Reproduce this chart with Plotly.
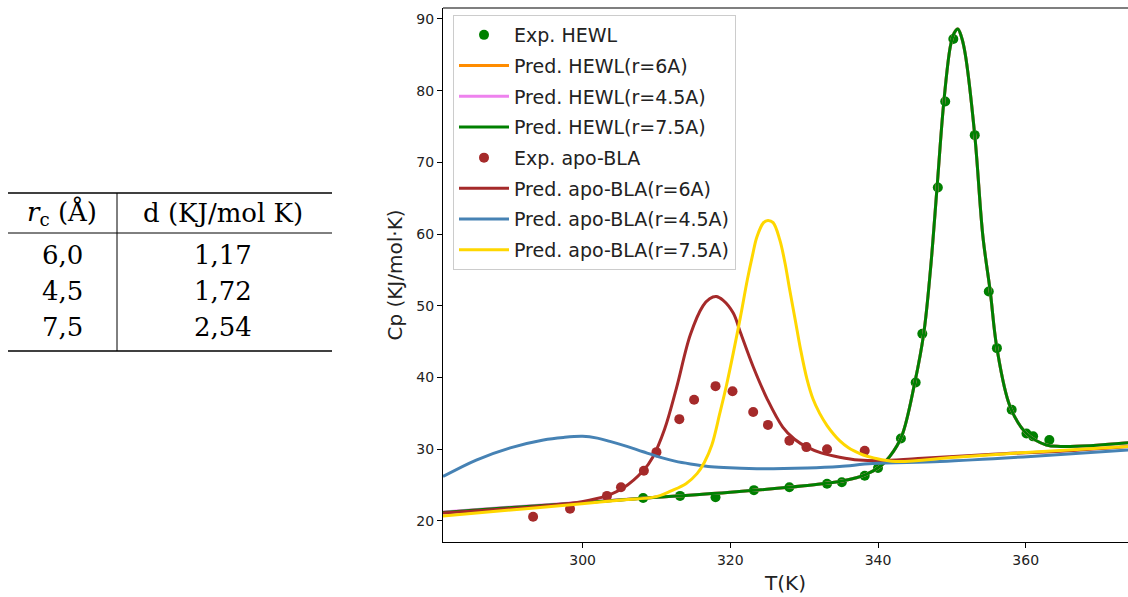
import plotly.graph_objects as go

# ---------------- data ----------------
# Experimental HEWL
exp_hewl_T = [308.2, 313.2, 318.0, 323.2, 328.0, 333.1, 335.1, 338.2, 340.0, 343.1, 345.1, 346.0, 348.1, 349.1, 350.2,
              353.1, 355.0, 356.1, 358.1, 360.1, 361.0, 363.2]
exp_hewl_cp = [23.2, 23.5, 23.3, 24.3, 24.7, 25.2, 25.4, 26.3, 27.4, 31.5, 39.3, 46.1, 66.5, 78.5, 87.2,
               73.8, 52.0, 44.1, 35.5, 32.2, 31.8, 31.3]

# Predicted HEWL (the three radii are practically superimposed)
hewl_T = [281.1, 289.8, 299.9, 310.0, 320.0, 330.0, 335.3, 338.4, 340.4, 341.6, 343.2, 345.0, 346.2, 347.1, 348.0,
          348.9, 349.8, 350.3, 350.8, 351.3, 351.8, 353.1, 354.2, 355.2, 356.1, 357.9, 360.1, 362.8, 364.7,
          368.7, 373.9]
hewl_cp_r6 = [21.2, 21.85, 22.55, 23.3, 24.0, 24.9, 25.6, 26.5, 27.7, 29.0, 31.8, 39.4, 46.2, 55.0, 66.6,
              78.3, 86.2, 88.0, 88.6, 87.5, 85.2, 73.8, 59.7, 52.0, 44.1, 35.9, 32.2, 30.6, 30.4, 30.5, 30.9]
hewl_cp_r45 = [21.25, 21.9, 22.6, 23.3, 24.0, 24.9, 25.6, 26.5, 27.7, 29.0, 31.8, 39.4, 46.2, 55.0, 66.6,
               78.3, 86.2, 88.0, 88.6, 87.5, 85.2, 73.8, 59.7, 52.0, 44.1, 35.9, 32.2, 30.6, 30.4, 30.5, 30.9]
hewl_cp_r75 = [21.2, 21.85, 22.55, 23.3, 24.0, 24.9, 25.6, 26.5, 27.7, 29.0, 31.8, 39.4, 46.2, 55.0, 66.6,
               78.3, 86.2, 88.0, 88.6, 87.5, 85.2, 73.8, 59.7, 52.0, 44.1, 35.9, 32.2, 30.6, 30.4, 30.5, 30.9]

# Experimental apo-BLA
exp_bla_T = [293.3, 298.3, 303.3, 305.2, 308.3, 310.0, 313.1, 315.1, 318.0, 320.3, 323.1, 325.1, 328.0, 330.3,
             333.1, 338.2]
exp_bla_cp = [20.6, 21.7, 23.5, 24.7, 27.0, 29.6, 34.2, 36.9, 38.8, 38.1, 35.2, 33.4, 31.2, 30.3, 30.0, 29.8]

# Predicted apo-BLA r=6A
bla6_T = [281.1, 289.8, 295.9, 299.9, 303.2, 305.5, 308.2, 309.5, 311.1, 312.7, 314.6, 316.3, 317.2, 318.1, 319.0,
          320.4, 321.4, 323.1, 325.0, 327.1, 328.7, 330.4, 332.3, 334.8, 337.4, 340.4, 345.4, 355.5, 365.7, 373.9]
bla6_cp = [21.1, 21.7, 22.2, 22.7, 23.5, 24.6, 27.0, 28.9, 32.8, 38.5, 46.0, 50.0, 51.0, 51.3, 50.8,
           49.0, 46.2, 41.5, 37.0, 33.1, 31.4, 30.3, 29.5, 28.9, 28.5, 28.4, 28.7, 29.3, 29.8, 30.4]

# Predicted apo-BLA r=4.5A
bla45_T = [281.1, 285.6, 290.2, 294.7, 297.4, 300.0, 302.0, 303.7, 306.0, 308.2, 310.8, 312.5, 314.6, 317.0,
           319.1, 323.6, 330.4, 334.8, 339.3, 348.4, 360.7, 373.9]
bla45_cp = [26.2, 28.5, 30.2, 31.3, 31.65, 31.8, 31.55, 31.1, 30.4, 29.65, 28.8, 28.35, 27.95, 27.6,
            27.45, 27.3, 27.4, 27.6, 28.0, 28.3, 29.0, 29.9]

# Predicted apo-BLA r=7.5A
bla75_T = [281.1, 289.8, 299.9, 305.0, 310.0, 312.0, 314.0, 315.5, 316.5, 317.5, 318.6, 319.5, 320.4, 321.4, 322.3,
           323.0, 323.6, 324.5, 325.1, 325.8, 326.7, 327.4, 328.0, 328.8, 329.5, 330.4, 331.2, 332.1, 333.1,
           334.0, 334.8, 336.0, 336.9, 338.0, 339.4, 342.4, 350.5, 360.6, 373.9]
bla75_cp = [20.7, 21.5, 22.4, 22.9, 23.4, 24.2, 25.2, 26.6, 28.2, 30.6, 35.1, 39.0, 43.4, 48.6, 53.6,
            57.0, 59.6, 61.6, 61.9, 61.6, 59.2, 56.0, 52.5, 48.0, 44.0, 39.7, 37.0, 35.0, 33.3,
            32.1, 31.2, 30.2, 29.7, 29.2, 28.8, 28.3, 28.9, 29.6, 30.4]

# Table
table_header = ["<i>r</i><sub>c</sub> (Å)", "d (KJ/mol K)"]
table_rc = ["6,0", "4,5", "7,5"]
table_d = ["1,17", "1,72", "2,54"]

x_ticks = [300, 320, 340, 360]
y_ticks = [20, 30, 40, 50, 60, 70, 80, 90]

# ---------------- figure ----------------
W, H = 1128, 597
ML, MR, MT, MB = 443, 0, 8, 55
PW, PH = W - ML - MR, H - MT - MB


def px_x(px):
    return (px - ML) / PW


def px_y(py):
    return (H - MB - py) / PH


LW = 3
SPL = dict(shape="spline", smoothing=1.0)
fig = go.Figure()
fig.add_trace(go.Scatter(x=exp_hewl_T, y=exp_hewl_cp, mode="markers", name="Exp. HEWL", legendgroup="g1",
                         marker=dict(color="#008000", size=10)))
fig.add_trace(go.Scatter(x=hewl_T, y=hewl_cp_r6, mode="lines", name="Pred. HEWL(r=6A)", legendgroup="g2",
                         line=dict(color="#FF8C00", width=LW, **SPL)))
fig.add_trace(go.Scatter(x=hewl_T, y=hewl_cp_r45, mode="lines", name="Pred. HEWL(r=4.5A)", legendgroup="g3",
                         line=dict(color="#EE82EE", width=LW, **SPL)))
fig.add_trace(go.Scatter(x=hewl_T, y=hewl_cp_r75, mode="lines", name="Pred. HEWL(r=7.5A)", legendgroup="g4",
                         line=dict(color="#008000", width=LW, **SPL)))
fig.add_trace(go.Scatter(x=exp_bla_T, y=exp_bla_cp, mode="markers", name="Exp. apo-BLA", legendgroup="g5",
                         marker=dict(color="#A52A2A", size=10)))
fig.add_trace(go.Scatter(x=bla6_T, y=bla6_cp, mode="lines", name="Pred. apo-BLA(r=6A)", legendgroup="g6",
                         line=dict(color="#A52A2A", width=LW, **SPL)))
fig.add_trace(go.Scatter(x=bla45_T, y=bla45_cp, mode="lines", name="Pred. apo-BLA(r=4.5A)", legendgroup="g7",
                         line=dict(color="#4682B4", width=LW, **SPL)))
fig.add_trace(go.Scatter(x=bla75_T, y=bla75_cp, mode="lines", name="Pred. apo-BLA(r=7.5A)", legendgroup="g8",
                         line=dict(color="#FFD700", width=LW, **SPL)))

axis_common = dict(showline=True, linecolor="black", linewidth=1.2, ticks="outside", ticklen=5,
                   tickwidth=1.2, tickcolor="black", showgrid=False, zeroline=False,
                   tickfont=dict(family="DejaVu Sans", size=14, color="#222"))

fig.update_layout(
    width=W, height=H,
    margin=dict(l=ML, r=MR, t=MT, b=MB),
    plot_bgcolor="white", paper_bgcolor="white",
    font=dict(family="DejaVu Sans", color="#222"),
    xaxis=dict(range=[281.1, 373.85], tickvals=x_ticks,
               title=dict(text="T(K)", font=dict(family="DejaVu Sans", size=20, color="#222"), standoff=9),
               **axis_common),
    yaxis=dict(range=[17.07, 91.53], tickvals=y_ticks,
               title=dict(text="Cp (KJ/mol·K)", font=dict(family="DejaVu Sans", size=20, color="#222"),
                          standoff=8),
               **axis_common),
    legend=dict(x=px_x(453), y=px_y(15), xanchor="left", yanchor="top",
                bgcolor="rgba(255,255,255,0.8)", bordercolor="#cccccc", borderwidth=1,
                font=dict(family="DejaVu Sans", size=19, color="#222"), itemwidth=50,
                tracegroupgap=3),
    showlegend=True,
)

# top spine of the axes box
fig.add_shape(type="line", xref="paper", yref="paper", x0=0, x1=1, y0=1, y1=1,
              line=dict(color="black", width=1.2))

# ---------------- table (left) ----------------
TF = dict(family="DejaVu Serif", size=26, color="black")
rule_x0, rule_x1 = px_x(8), px_x(332)
for py, w in [(193, 1.4), (233, 1.0), (351, 1.4)]:
    fig.add_shape(type="line", xref="paper", yref="paper", x0=rule_x0, x1=rule_x1,
                  y0=px_y(py), y1=px_y(py), line=dict(color="black", width=w))
fig.add_shape(type="line", xref="paper", yref="paper", x0=px_x(117), x1=px_x(117),
              y0=px_y(193), y1=px_y(351), line=dict(color="black", width=1.0))

col_x = [px_x(62), px_x(223)]
fig.add_annotation(x=col_x[0], y=px_y(213), xref="paper", yref="paper", text=table_header[0],
                   showarrow=False, font=TF, xanchor="center", yanchor="middle")
fig.add_annotation(x=col_x[1], y=px_y(213), xref="paper", yref="paper", text=table_header[1],
                   showarrow=False, font=TF, xanchor="center", yanchor="middle")
row_y = [255, 291, 327]
for i in range(len(table_rc)):
    fig.add_annotation(x=col_x[0], y=px_y(row_y[i]), xref="paper", yref="paper", text=table_rc[i],
                       showarrow=False, font=TF, xanchor="center", yanchor="middle")
    fig.add_annotation(x=col_x[1], y=px_y(row_y[i]), xref="paper", yref="paper", text=table_d[i],
                       showarrow=False, font=TF, xanchor="center", yanchor="middle")

fig.write_html("out.html")
